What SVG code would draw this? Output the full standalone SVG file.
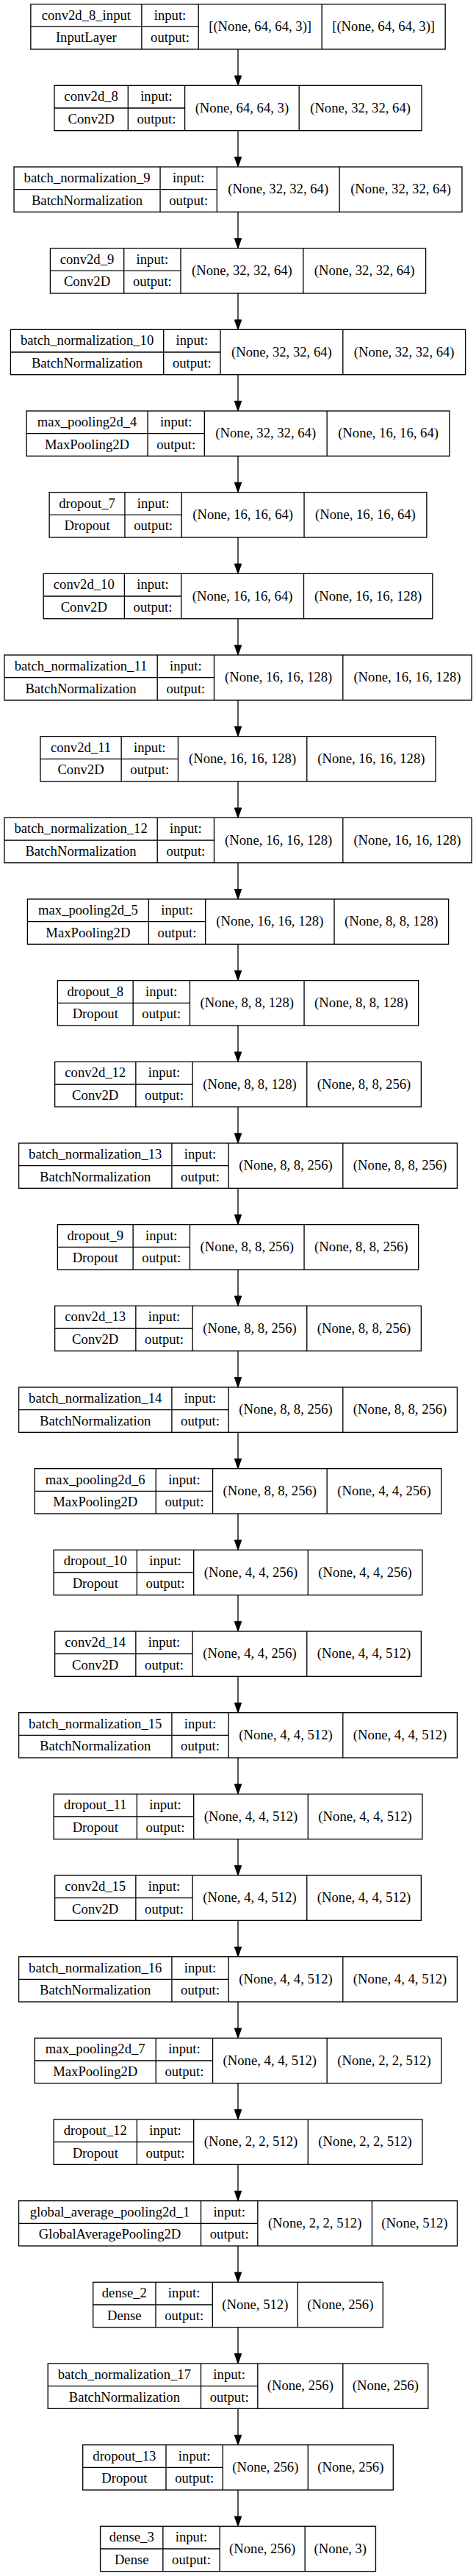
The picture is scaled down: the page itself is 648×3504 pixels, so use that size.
<svg xmlns="http://www.w3.org/2000/svg" width="648" height="3504" viewBox="0 0 648 3504">
<style>
.b{fill:#fff;stroke:#000;stroke-width:1.33}
.l{stroke:#000;stroke-width:1.33;fill:none}
.e{stroke:#000;stroke-width:1.33;fill:none;marker-end:url(#ah)}
text{font-family:"Liberation Serif","Times New Roman",serif;font-size:18.67px;text-anchor:middle;fill:#000}
</style>
<defs>
<marker id="ah" markerUnits="userSpaceOnUse" markerWidth="14" markerHeight="10" refX="0" refY="4.67" orient="auto" overflow="visible"><path d="M0,0L13.33,4.67L0,9.33z" fill="#000" stroke="#000" stroke-width="1"/></marker>
</defs>
<rect width="648" height="3504" fill="#fff"/>
<g id="edges">
<path class="e" d="M324 67V103"/>
<path class="e" d="M324 177.67V213.67"/>
<path class="e" d="M324 288.33V324.33"/>
<path class="e" d="M324 399V435"/>
<path class="e" d="M324 509.67V545.67"/>
<path class="e" d="M324 620.33V656.33"/>
<path class="e" d="M324 731V767"/>
<path class="e" d="M324 841.67V877.67"/>
<path class="e" d="M324 952.33V988.33"/>
<path class="e" d="M324 1063V1099"/>
<path class="e" d="M324 1173.67V1209.67"/>
<path class="e" d="M324 1284.33V1320.33"/>
<path class="e" d="M324 1395V1431"/>
<path class="e" d="M324 1505.67V1541.67"/>
<path class="e" d="M324 1616.33V1652.33"/>
<path class="e" d="M324 1727V1763"/>
<path class="e" d="M324 1837.67V1873.67"/>
<path class="e" d="M324 1948.33V1984.33"/>
<path class="e" d="M324 2059V2095"/>
<path class="e" d="M324 2169.67V2205.67"/>
<path class="e" d="M324 2280.33V2316.33"/>
<path class="e" d="M324 2391V2427"/>
<path class="e" d="M324 2501.67V2537.67"/>
<path class="e" d="M324 2612.33V2648.33"/>
<path class="e" d="M324 2723V2759"/>
<path class="e" d="M324 2833.67V2869.67"/>
<path class="e" d="M324 2944.33V2980.33"/>
<path class="e" d="M324 3055V3091"/>
<path class="e" d="M324 3165.67V3201.67"/>
<path class="e" d="M324 3276.33V3312.33"/>
<path class="e" d="M324 3387V3423"/>
</g>

<g id="n0" transform="translate(41.85,5.67)">
<rect class="b" width="564.3" height="61.33"/>
<path class="l" d="M151 0V61.33M228.3 0V61.33M396.3 0V61.33M0 30.67H228.3"/>
<text x="75.5" y="20.9">conv2d_8_input</text><text x="75.5" y="51.6">InputLayer</text>
<text x="189.65" y="20.9">input:</text><text x="189.65" y="51.6">output:</text>
<text x="312.3" y="36.3">[(None, 64, 64, 3)]</text><text x="480.3" y="36.3">[(None, 64, 64, 3)]</text>
</g>

<g id="n1" transform="translate(74,116.33)">
<rect class="b" width="500" height="61.33"/>
<path class="l" d="M100.3 0V61.33M177.6 0V61.33M333.2 0V61.33M0 30.67H177.6"/>
<text x="50.15" y="20.9">conv2d_8</text><text x="50.15" y="51.6">Conv2D</text>
<text x="138.95" y="20.9">input:</text><text x="138.95" y="51.6">output:</text>
<text x="255.4" y="36.3">(None, 64, 64, 3)</text><text x="416.6" y="36.3">(None, 32, 32, 64)</text>
</g>

<g id="n2" transform="translate(19.05,227)">
<rect class="b" width="609.9" height="61.33"/>
<path class="l" d="M199 0V61.33M276.3 0V61.33M443.1 0V61.33M0 30.67H276.3"/>
<text x="99.5" y="20.9">batch_normalization_9</text><text x="99.5" y="51.6">BatchNormalization</text>
<text x="237.65" y="20.9">input:</text><text x="237.65" y="51.6">output:</text>
<text x="359.7" y="36.3">(None, 32, 32, 64)</text><text x="526.5" y="36.3">(None, 32, 32, 64)</text>
</g>

<g id="n3" transform="translate(68.4,337.67)">
<rect class="b" width="511.2" height="61.33"/>
<path class="l" d="M100.3 0V61.33M177.6 0V61.33M344.4 0V61.33M0 30.67H177.6"/>
<text x="50.15" y="20.9">conv2d_9</text><text x="50.15" y="51.6">Conv2D</text>
<text x="138.95" y="20.9">input:</text><text x="138.95" y="51.6">output:</text>
<text x="261" y="36.3">(None, 32, 32, 64)</text><text x="427.8" y="36.3">(None, 32, 32, 64)</text>
</g>

<g id="n4" transform="translate(14.4,448.33)">
<rect class="b" width="619.2" height="61.33"/>
<path class="l" d="M208.3 0V61.33M285.6 0V61.33M452.4 0V61.33M0 30.67H285.6"/>
<text x="104.15" y="20.9">batch_normalization_10</text><text x="104.15" y="51.6">BatchNormalization</text>
<text x="246.95" y="20.9">input:</text><text x="246.95" y="51.6">output:</text>
<text x="369" y="36.3">(None, 32, 32, 64)</text><text x="535.8" y="36.3">(None, 32, 32, 64)</text>
</g>

<g id="n5" transform="translate(36.05,559)">
<rect class="b" width="575.9" height="61.33"/>
<path class="l" d="M165 0V61.33M242.3 0V61.33M409.1 0V61.33M0 30.67H242.3"/>
<text x="82.5" y="20.9">max_pooling2d_4</text><text x="82.5" y="51.6">MaxPooling2D</text>
<text x="203.65" y="20.9">input:</text><text x="203.65" y="51.6">output:</text>
<text x="325.7" y="36.3">(None, 32, 32, 64)</text><text x="492.5" y="36.3">(None, 16, 16, 64)</text>
</g>

<g id="n6" transform="translate(67.15,669.67)">
<rect class="b" width="513.7" height="61.33"/>
<path class="l" d="M102.8 0V61.33M180.1 0V61.33M346.9 0V61.33M0 30.67H180.1"/>
<text x="51.4" y="20.9">dropout_7</text><text x="51.4" y="51.6">Dropout</text>
<text x="141.45" y="20.9">input:</text><text x="141.45" y="51.6">output:</text>
<text x="263.5" y="36.3">(None, 16, 16, 64)</text><text x="430.3" y="36.3">(None, 16, 16, 64)</text>
</g>

<g id="n7" transform="translate(59.2,780.33)">
<rect class="b" width="529.6" height="61.33"/>
<path class="l" d="M110.2 0V61.33M187.5 0V61.33M354.3 0V61.33M0 30.67H187.5"/>
<text x="55.1" y="20.9">conv2d_10</text><text x="55.1" y="51.6">Conv2D</text>
<text x="148.85" y="20.9">input:</text><text x="148.85" y="51.6">output:</text>
<text x="270.9" y="36.3">(None, 16, 16, 64)</text><text x="441.95" y="36.3">(None, 16, 16, 128)</text>
</g>

<g id="n8" transform="translate(5.9,891)">
<rect class="b" width="636.2" height="61.33"/>
<path class="l" d="M208.3 0V61.33M285.6 0V61.33M460.9 0V61.33M0 30.67H285.6"/>
<text x="104.15" y="20.9">batch_normalization_11</text><text x="104.15" y="51.6">BatchNormalization</text>
<text x="246.95" y="20.9">input:</text><text x="246.95" y="51.6">output:</text>
<text x="373.25" y="36.3">(None, 16, 16, 128)</text><text x="548.55" y="36.3">(None, 16, 16, 128)</text>
</g>

<g id="n9" transform="translate(54.95,1001.67)">
<rect class="b" width="538.1" height="61.33"/>
<path class="l" d="M110.2 0V61.33M187.5 0V61.33M362.8 0V61.33M0 30.67H187.5"/>
<text x="55.1" y="20.9">conv2d_11</text><text x="55.1" y="51.6">Conv2D</text>
<text x="148.85" y="20.9">input:</text><text x="148.85" y="51.6">output:</text>
<text x="275.15" y="36.3">(None, 16, 16, 128)</text><text x="450.45" y="36.3">(None, 16, 16, 128)</text>
</g>

<g id="n10" transform="translate(5.9,1112.33)">
<rect class="b" width="636.2" height="61.33"/>
<path class="l" d="M208.3 0V61.33M285.6 0V61.33M460.9 0V61.33M0 30.67H285.6"/>
<text x="104.15" y="20.9">batch_normalization_12</text><text x="104.15" y="51.6">BatchNormalization</text>
<text x="246.95" y="20.9">input:</text><text x="246.95" y="51.6">output:</text>
<text x="373.25" y="36.3">(None, 16, 16, 128)</text><text x="548.55" y="36.3">(None, 16, 16, 128)</text>
</g>

<g id="n11" transform="translate(37.4,1223)">
<rect class="b" width="573.2" height="61.33"/>
<path class="l" d="M165 0V61.33M242.3 0V61.33M417.6 0V61.33M0 30.67H242.3"/>
<text x="82.5" y="20.9">max_pooling2d_5</text><text x="82.5" y="51.6">MaxPooling2D</text>
<text x="203.65" y="20.9">input:</text><text x="203.65" y="51.6">output:</text>
<text x="329.95" y="36.3">(None, 16, 16, 128)</text><text x="495.4" y="36.3">(None, 8, 8, 128)</text>
</g>

<g id="n12" transform="translate(78.35,1333.67)">
<rect class="b" width="491.3" height="61.33"/>
<path class="l" d="M102.8 0V61.33M180.1 0V61.33M335.7 0V61.33M0 30.67H180.1"/>
<text x="51.4" y="20.9">dropout_8</text><text x="51.4" y="51.6">Dropout</text>
<text x="141.45" y="20.9">input:</text><text x="141.45" y="51.6">output:</text>
<text x="257.9" y="36.3">(None, 8, 8, 128)</text><text x="413.5" y="36.3">(None, 8, 8, 128)</text>
</g>

<g id="n13" transform="translate(74.65,1444.33)">
<rect class="b" width="498.7" height="61.33"/>
<path class="l" d="M110.2 0V61.33M187.5 0V61.33M343.1 0V61.33M0 30.67H187.5"/>
<text x="55.1" y="20.9">conv2d_12</text><text x="55.1" y="51.6">Conv2D</text>
<text x="148.85" y="20.9">input:</text><text x="148.85" y="51.6">output:</text>
<text x="265.3" y="36.3">(None, 8, 8, 128)</text><text x="420.9" y="36.3">(None, 8, 8, 256)</text>
</g>

<g id="n14" transform="translate(25.6,1555)">
<rect class="b" width="596.8" height="61.33"/>
<path class="l" d="M208.3 0V61.33M285.6 0V61.33M441.2 0V61.33M0 30.67H285.6"/>
<text x="104.15" y="20.9">batch_normalization_13</text><text x="104.15" y="51.6">BatchNormalization</text>
<text x="246.95" y="20.9">input:</text><text x="246.95" y="51.6">output:</text>
<text x="363.4" y="36.3">(None, 8, 8, 256)</text><text x="519" y="36.3">(None, 8, 8, 256)</text>
</g>

<g id="n15" transform="translate(78.35,1665.67)">
<rect class="b" width="491.3" height="61.33"/>
<path class="l" d="M102.8 0V61.33M180.1 0V61.33M335.7 0V61.33M0 30.67H180.1"/>
<text x="51.4" y="20.9">dropout_9</text><text x="51.4" y="51.6">Dropout</text>
<text x="141.45" y="20.9">input:</text><text x="141.45" y="51.6">output:</text>
<text x="257.9" y="36.3">(None, 8, 8, 256)</text><text x="413.5" y="36.3">(None, 8, 8, 256)</text>
</g>

<g id="n16" transform="translate(74.65,1776.33)">
<rect class="b" width="498.7" height="61.33"/>
<path class="l" d="M110.2 0V61.33M187.5 0V61.33M343.1 0V61.33M0 30.67H187.5"/>
<text x="55.1" y="20.9">conv2d_13</text><text x="55.1" y="51.6">Conv2D</text>
<text x="148.85" y="20.9">input:</text><text x="148.85" y="51.6">output:</text>
<text x="265.3" y="36.3">(None, 8, 8, 256)</text><text x="420.9" y="36.3">(None, 8, 8, 256)</text>
</g>

<g id="n17" transform="translate(25.6,1887)">
<rect class="b" width="596.8" height="61.33"/>
<path class="l" d="M208.3 0V61.33M285.6 0V61.33M441.2 0V61.33M0 30.67H285.6"/>
<text x="104.15" y="20.9">batch_normalization_14</text><text x="104.15" y="51.6">BatchNormalization</text>
<text x="246.95" y="20.9">input:</text><text x="246.95" y="51.6">output:</text>
<text x="363.4" y="36.3">(None, 8, 8, 256)</text><text x="519" y="36.3">(None, 8, 8, 256)</text>
</g>

<g id="n18" transform="translate(47.25,1997.67)">
<rect class="b" width="553.5" height="61.33"/>
<path class="l" d="M165 0V61.33M242.3 0V61.33M397.9 0V61.33M0 30.67H242.3"/>
<text x="82.5" y="20.9">max_pooling2d_6</text><text x="82.5" y="51.6">MaxPooling2D</text>
<text x="203.65" y="20.9">input:</text><text x="203.65" y="51.6">output:</text>
<text x="320.1" y="36.3">(None, 8, 8, 256)</text><text x="475.7" y="36.3">(None, 4, 4, 256)</text>
</g>

<g id="n19" transform="translate(73.1,2108.33)">
<rect class="b" width="501.8" height="61.33"/>
<path class="l" d="M113.3 0V61.33M190.6 0V61.33M346.2 0V61.33M0 30.67H190.6"/>
<text x="56.65" y="20.9">dropout_10</text><text x="56.65" y="51.6">Dropout</text>
<text x="151.95" y="20.9">input:</text><text x="151.95" y="51.6">output:</text>
<text x="268.4" y="36.3">(None, 4, 4, 256)</text><text x="424" y="36.3">(None, 4, 4, 256)</text>
</g>

<g id="n20" transform="translate(74.65,2219)">
<rect class="b" width="498.7" height="61.33"/>
<path class="l" d="M110.2 0V61.33M187.5 0V61.33M343.1 0V61.33M0 30.67H187.5"/>
<text x="55.1" y="20.9">conv2d_14</text><text x="55.1" y="51.6">Conv2D</text>
<text x="148.85" y="20.9">input:</text><text x="148.85" y="51.6">output:</text>
<text x="265.3" y="36.3">(None, 4, 4, 256)</text><text x="420.9" y="36.3">(None, 4, 4, 512)</text>
</g>

<g id="n21" transform="translate(25.6,2329.67)">
<rect class="b" width="596.8" height="61.33"/>
<path class="l" d="M208.3 0V61.33M285.6 0V61.33M441.2 0V61.33M0 30.67H285.6"/>
<text x="104.15" y="20.9">batch_normalization_15</text><text x="104.15" y="51.6">BatchNormalization</text>
<text x="246.95" y="20.9">input:</text><text x="246.95" y="51.6">output:</text>
<text x="363.4" y="36.3">(None, 4, 4, 512)</text><text x="519" y="36.3">(None, 4, 4, 512)</text>
</g>

<g id="n22" transform="translate(73.1,2440.33)">
<rect class="b" width="501.8" height="61.33"/>
<path class="l" d="M113.3 0V61.33M190.6 0V61.33M346.2 0V61.33M0 30.67H190.6"/>
<text x="56.65" y="20.9">dropout_11</text><text x="56.65" y="51.6">Dropout</text>
<text x="151.95" y="20.9">input:</text><text x="151.95" y="51.6">output:</text>
<text x="268.4" y="36.3">(None, 4, 4, 512)</text><text x="424" y="36.3">(None, 4, 4, 512)</text>
</g>

<g id="n23" transform="translate(74.65,2551)">
<rect class="b" width="498.7" height="61.33"/>
<path class="l" d="M110.2 0V61.33M187.5 0V61.33M343.1 0V61.33M0 30.67H187.5"/>
<text x="55.1" y="20.9">conv2d_15</text><text x="55.1" y="51.6">Conv2D</text>
<text x="148.85" y="20.9">input:</text><text x="148.85" y="51.6">output:</text>
<text x="265.3" y="36.3">(None, 4, 4, 512)</text><text x="420.9" y="36.3">(None, 4, 4, 512)</text>
</g>

<g id="n24" transform="translate(25.6,2661.67)">
<rect class="b" width="596.8" height="61.33"/>
<path class="l" d="M208.3 0V61.33M285.6 0V61.33M441.2 0V61.33M0 30.67H285.6"/>
<text x="104.15" y="20.9">batch_normalization_16</text><text x="104.15" y="51.6">BatchNormalization</text>
<text x="246.95" y="20.9">input:</text><text x="246.95" y="51.6">output:</text>
<text x="363.4" y="36.3">(None, 4, 4, 512)</text><text x="519" y="36.3">(None, 4, 4, 512)</text>
</g>

<g id="n25" transform="translate(47.25,2772.33)">
<rect class="b" width="553.5" height="61.33"/>
<path class="l" d="M165 0V61.33M242.3 0V61.33M397.9 0V61.33M0 30.67H242.3"/>
<text x="82.5" y="20.9">max_pooling2d_7</text><text x="82.5" y="51.6">MaxPooling2D</text>
<text x="203.65" y="20.9">input:</text><text x="203.65" y="51.6">output:</text>
<text x="320.1" y="36.3">(None, 4, 4, 512)</text><text x="475.7" y="36.3">(None, 2, 2, 512)</text>
</g>

<g id="n26" transform="translate(73.1,2883)">
<rect class="b" width="501.8" height="61.33"/>
<path class="l" d="M113.3 0V61.33M190.6 0V61.33M346.2 0V61.33M0 30.67H190.6"/>
<text x="56.65" y="20.9">dropout_12</text><text x="56.65" y="51.6">Dropout</text>
<text x="151.95" y="20.9">input:</text><text x="151.95" y="51.6">output:</text>
<text x="268.4" y="36.3">(None, 2, 2, 512)</text><text x="424" y="36.3">(None, 2, 2, 512)</text>
</g>

<g id="n27" transform="translate(25.55,2993.67)">
<rect class="b" width="596.9" height="61.33"/>
<path class="l" d="M248 0V61.33M325.3 0V61.33M480.9 0V61.33M0 30.67H325.3"/>
<text x="124" y="20.9">global_average_pooling2d_1</text><text x="124" y="51.6">GlobalAveragePooling2D</text>
<text x="286.65" y="20.9">input:</text><text x="286.65" y="51.6">output:</text>
<text x="403.1" y="36.3">(None, 2, 2, 512)</text><text x="538.9" y="36.3">(None, 512)</text>
</g>

<g id="n28" transform="translate(126.7,3104.33)">
<rect class="b" width="394.6" height="61.33"/>
<path class="l" d="M85.3 0V61.33M162.6 0V61.33M278.6 0V61.33M0 30.67H162.6"/>
<text x="42.65" y="20.9">dense_2</text><text x="42.65" y="51.6">Dense</text>
<text x="123.95" y="20.9">input:</text><text x="123.95" y="51.6">output:</text>
<text x="220.6" y="36.3">(None, 512)</text><text x="336.6" y="36.3">(None, 256)</text>
</g>

<g id="n29" transform="translate(65.2,3215)">
<rect class="b" width="517.6" height="61.33"/>
<path class="l" d="M208.3 0V61.33M285.6 0V61.33M401.6 0V61.33M0 30.67H285.6"/>
<text x="104.15" y="20.9">batch_normalization_17</text><text x="104.15" y="51.6">BatchNormalization</text>
<text x="246.95" y="20.9">input:</text><text x="246.95" y="51.6">output:</text>
<text x="343.6" y="36.3">(None, 256)</text><text x="459.6" y="36.3">(None, 256)</text>
</g>

<g id="n30" transform="translate(112.7,3325.67)">
<rect class="b" width="422.6" height="61.33"/>
<path class="l" d="M113.3 0V61.33M190.6 0V61.33M306.6 0V61.33M0 30.67H190.6"/>
<text x="56.65" y="20.9">dropout_13</text><text x="56.65" y="51.6">Dropout</text>
<text x="151.95" y="20.9">input:</text><text x="151.95" y="51.6">output:</text>
<text x="248.6" y="36.3">(None, 256)</text><text x="364.6" y="36.3">(None, 256)</text>
</g>

<g id="n31" transform="translate(136.55,3436.33)">
<rect class="b" width="374.9" height="61.33"/>
<path class="l" d="M85.3 0V61.33M162.6 0V61.33M278.6 0V61.33M0 30.67H162.6"/>
<text x="42.65" y="20.9">dense_3</text><text x="42.65" y="51.6">Dense</text>
<text x="123.95" y="20.9">input:</text><text x="123.95" y="51.6">output:</text>
<text x="220.6" y="36.3">(None, 256)</text><text x="326.75" y="36.3">(None, 3)</text>
</g>
</svg>
